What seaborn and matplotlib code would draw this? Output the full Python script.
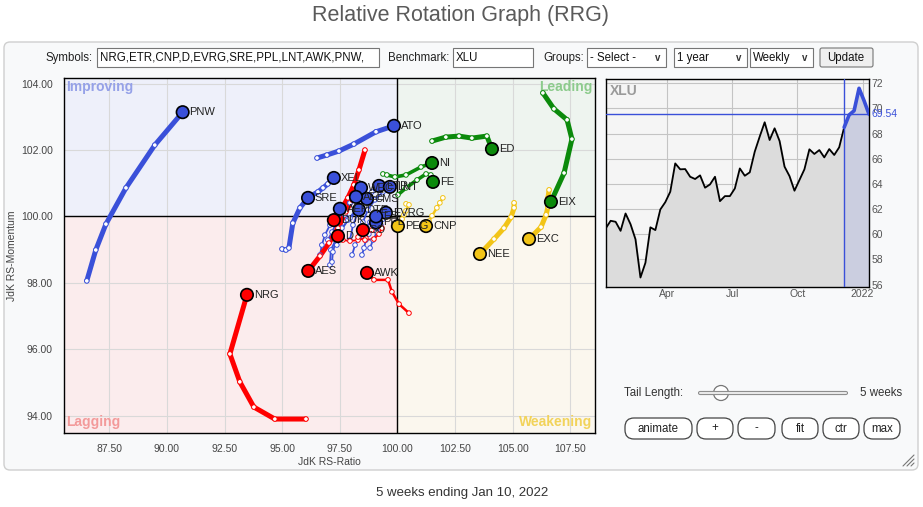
import numpy as np
import pandas as pd
import matplotlib
matplotlib.use("Agg")
import matplotlib.pyplot as plt
import matplotlib.transforms as mtransforms
from matplotlib.patches import FancyBboxPatch, Rectangle, Circle
import seaborn as sns

# RRG tails, oldest week first, head (latest week) last: (JdK RS-Ratio, JdK RS-Momentum)
PNW = [(86.52, 98.06), (86.91, 98.99), (87.35, 99.77), (88.22, 100.86), (89.47, 102.15), (90.68, 103.14)]
ATO = [(96.51, 101.76), (96.94, 101.85), (97.46, 101.97), (98.11, 102.18), (99.07, 102.55), (99.85, 102.73)]
XEL = [(96.03, 100.50), (96.25, 100.62), (96.55, 100.74), (96.77, 100.86), (96.98, 100.98), (97.24, 101.16)]
SRE = [(94.99, 99.02), (95.16, 98.99), (95.29, 99.05), (95.46, 99.80), (95.77, 100.26), (96.12, 100.56)]
WEC = [(97.37, 99.14), (97.50, 99.59), (97.72, 100.05), (97.94, 100.41), (98.16, 100.65), (98.42, 100.86)]
ETR = [(97.94, 99.29), (98.07, 99.74), (98.29, 100.14), (98.59, 100.50), (98.89, 100.74), (99.20, 100.92)]
LNT = [(98.37, 99.44), (98.50, 99.83), (98.72, 100.20), (99.02, 100.50), (99.37, 100.74), (99.67, 100.89)]
CMS = [(97.07, 98.54), (97.11, 98.99), (97.42, 99.44), (97.85, 99.89), (98.29, 100.29), (98.68, 100.53)]
AEE = [(96.98, 99.29), (97.16, 99.53), (97.37, 99.83), (97.63, 100.14), (97.94, 100.41), (98.20, 100.59)]
AEP = [(96.64, 98.84), (96.72, 99.14), (96.85, 99.44), (97.07, 99.74), (97.29, 100.02), (97.50, 100.23)]
DTE = [(97.16, 98.63), (97.20, 98.93), (97.33, 99.29), (97.59, 99.65), (97.94, 99.95), (98.33, 100.20)]
EVRG = [(98.81, 99.05), (98.94, 99.29), (99.11, 99.53), (99.28, 99.74), (99.37, 99.92), (99.50, 100.11)]
PPL = [(98.46, 98.84), (98.55, 99.05), (98.63, 99.29), (98.76, 99.47), (98.89, 99.65), (99.07, 99.82)]
ES = [(98.03, 98.84), (98.16, 99.14), (98.37, 99.41), (98.59, 99.62), (98.81, 99.83), (99.07, 100.00)]
ED = [(101.50, 102.27), (102.10, 102.39), (102.67, 102.42), (103.23, 102.36), (103.88, 102.42), (104.10, 102.03)]
NI = [(99.37, 101.28), (99.54, 101.25), (99.89, 101.19), (100.37, 101.25), (101.02, 101.49), (101.50, 101.61)]
FE = [(100.02, 100.65), (100.37, 100.86), (100.85, 101.10), (101.24, 101.28), (101.45, 101.25), (101.54, 101.04)]
EIX = [(106.31, 103.72), (106.79, 103.24), (107.36, 102.91), (107.57, 102.33), (107.23, 101.31), (106.66, 100.44)]
EXC = [(106.58, 100.80), (106.53, 100.56), (106.53, 100.29), (106.45, 100.05), (106.23, 99.68), (105.71, 99.32)]
NEE = [(105.06, 100.41), (105.06, 100.26), (104.93, 99.98), (104.62, 99.65), (104.19, 99.32), (103.58, 98.87)]
CNP = [(101.97, 100.56), (101.84, 100.41), (101.71, 100.26), (101.50, 100.02), (101.37, 99.86), (101.24, 99.71)]
PEG = [(100.37, 100.38), (100.50, 100.35), (100.37, 100.17), (100.28, 100.05), (100.20, 99.92), (100.02, 99.71)]
NRG = [(96.03, 93.90), (94.68, 93.90), (93.77, 94.26), (93.16, 95.02), (92.73, 95.86), (93.47, 97.64)]
AWK = [(100.50, 97.09), (100.07, 97.36), (99.76, 97.73), (99.59, 98.09), (98.98, 98.09), (98.68, 98.30)]
AES = [(98.03, 100.50), (97.76, 100.14), (97.42, 99.65), (97.03, 99.20), (96.64, 98.81), (96.13, 98.36)]
DUK = [(98.59, 102.00), (98.33, 101.40), (98.11, 100.95), (97.85, 100.56), (97.55, 100.20), (97.24, 99.89)]
D = [(98.89, 99.59), (98.63, 99.35), (98.29, 99.29), (97.94, 99.26), (97.63, 99.29), (97.42, 99.41)]
SO = [(99.33, 99.65), (99.20, 99.47), (98.98, 99.32), (98.59, 99.29), (98.29, 99.38), (98.50, 99.59)]

# quadrant of each symbol's latest week
improving = ["PNW", "ATO", "XEL", "SRE", "WEC", "ETR", "LNT", "CMS", "AEE", "AEP", "DTE", "EVRG", "PPL", "ES"]
leading = ["ED", "NI", "FE", "EIX"]
weakening = ["EXC", "NEE", "CNP", "PEG"]
lagging = ["NRG", "AWK", "AES", "DUK", "D", "SO"]

# XLU weekly closes (benchmark panel)
xlu_close = [60.46, 61.07, 60.99, 60.27, 61.65, 60.80, 59.60, 56.56, 57.73, 60.55,
             60.33, 61.97, 62.55, 63.38, 65.63, 65.16, 65.18, 64.57, 64.39, 64.68,
             63.70, 63.96, 64.57, 62.63, 63.03, 63.03, 63.64, 65.23, 64.65, 64.92,
             66.56, 67.76, 68.90, 67.49, 68.42, 67.41, 65.37, 64.62, 63.46, 64.31,
             65.16, 66.75, 66.38, 66.69, 66.11, 66.77, 66.30, 66.91, 68.50, 69.48,
             69.82, 71.60, 70.62, 69.54]
xlu_start = "2021-01-04"
tail_weeks = 5

x_ticks = [87.5, 90.0, 92.5, 95.0, 97.5, 100.0, 102.5, 105.0, 107.5]
y_ticks = [94, 96, 98, 100, 102, 104]

tails = {"PNW": PNW, "ATO": ATO, "XEL": XEL, "SRE": SRE, "WEC": WEC, "ETR": ETR,
         "LNT": LNT, "CMS": CMS, "AEE": AEE, "AEP": AEP, "DTE": DTE, "EVRG": EVRG,
         "PPL": PPL, "ES": ES, "ED": ED, "NI": NI, "FE": FE, "EIX": EIX, "EXC": EXC,
         "NEE": NEE, "CNP": CNP, "PEG": PEG, "NRG": NRG, "AWK": AWK, "AES": AES,
         "DUK": DUK, "D": D, "SO": SO}

rows = []
for sym, pts in tails.items():
    for wk, (rx, ry) in enumerate(pts):
        rows.append((sym, wk, rx, ry))
df = pd.DataFrame(rows, columns=["symbol", "week", "ratio", "momentum"])

quad_colors = {"improving": "#3a50d9", "leading": "#0b8a0b", "weakening": "#f2c417", "lagging": "#ff0000"}
color_map = {}
for name, group in [("improving", improving), ("leading", leading), ("weakening", weakening), ("lagging", lagging)]:
    for s in group:
        color_map[s] = quad_colors[name]

thick = ["PNW", "ATO", "XEL", "SRE", "ED", "EIX", "EXC", "NEE", "NRG", "AES", "DUK"]
medium = ["NI", "FE"]
slim = ["CNP", "PEG", "AWK"]
width_map = {}
for s in tails:
    width_map[s] = 3.6 if s in thick else 2.6 if s in medium else 1.8 if s in slim else 1.3

sns.set_style("white")
plt.rcParams["font.family"] = ["Liberation Sans", "DejaVu Sans"]

fig = plt.figure(figsize=(9.23, 5.07), dpi=100)
fig.patch.set_facecolor("white")

# page furniture drawn in pixel space
bg = fig.add_axes([0, 0, 1, 1], zorder=0)
bg.set_xlim(0, 923)
bg.set_ylim(507, 0)
bg.axis("off")
bg.text(461, 16, "Relative Rotation Graph (RRG)", ha="center", va="center", fontsize=15.5, color="#5a5a5a")
bg.add_patch(FancyBboxPatch((4, 42), 914, 428, boxstyle="round,pad=0,rounding_size=6",
                            fc="#f8f9fa", ec="#cfcfcf", lw=1))
bg.text(462, 493, "5 weeks ending Jan 10, 2022", ha="center", va="center", fontsize=9.5, color="#333333")

fs = 8.3
bg.text(93, 58, "Symbols:", ha="right", va="center", fontsize=fs, color="#222")
bg.add_patch(Rectangle((97, 48), 282, 19, fc="white", ec="#767676", lw=0.8))
bg.text(100, 58, "NRG,ETR,CNP,D,EVRG,SRE,PPL,LNT,AWK,PNW,", ha="left", va="center", fontsize=fs, color="#111")
bg.text(449, 58, "Benchmark:", ha="right", va="center", fontsize=fs, color="#222")
bg.add_patch(Rectangle((453, 48), 80, 19, fc="white", ec="#767676", lw=0.8))
bg.text(456, 58, "XLU", ha="left", va="center", fontsize=fs, color="#111")
bg.text(584, 58, "Groups:", ha="right", va="center", fontsize=fs, color="#222")
for x0, w, txt in [(587, 79, "- Select -"), (674, 73, "1 year"), (750, 63, "Weekly")]:
    bg.add_patch(Rectangle((x0, 48), w, 19, fc="white", ec="#767676", lw=0.8))
    bg.text(x0 + 3, 58, txt, ha="left", va="center", fontsize=fs, color="#111")
    bg.text(x0 + w - 8, 58, "v", ha="center", va="center", fontsize=7, fontweight="bold", color="#333")
bg.add_patch(FancyBboxPatch((820, 48), 53, 19, boxstyle="round,pad=0,rounding_size=2",
                            fc="#efefef", ec="#767676", lw=0.8))
bg.text(846, 58, "Update", ha="center", va="center", fontsize=fs, color="#111")

# tail length slider and buttons
bg.text(624, 393, "Tail Length:", ha="left", va="center", fontsize=fs, color="#333")
bg.plot([700, 846], [393, 393], color="#8a8a8a", lw=3, solid_capstyle="round")
bg.plot([700, 846], [393, 393], color="#e8e8e8", lw=1.5, solid_capstyle="round")
bg.add_patch(Circle((721, 393), 7.5, fc="white", ec="#777", lw=0.9))
bg.text(902, 393, "5 weeks", ha="right", va="center", fontsize=fs, color="#333")
for x0, x1, txt in [(625, 692, "animate"), (697, 733, "+"), (738, 775, "-"),
                    (782, 818, "fit"), (823, 859, "ctr"), (864, 900, "max")]:
    bg.add_patch(FancyBboxPatch((x0, 418), x1 - x0, 21, boxstyle="round,pad=0,rounding_size=9",
                                fc="white", ec="#444", lw=0.9))
    bg.text((x0 + x1) / 2, 428.5, txt, ha="center", va="center", fontsize=fs, color="#222")
for k in range(3):
    bg.plot([903 + 4 * k, 914], [466, 455 + 4 * k], color="#777", lw=0.8)

# main RRG axes
ax = fig.add_axes([0.0693, 0.1460, 0.5753, 0.7002], zorder=1)
x_lo, x_hi, y_lo, y_hi = 85.53, 108.57, 93.48, 104.17
ax.set_xlim(x_lo, x_hi)
ax.set_ylim(y_lo, y_hi)
ax.add_patch(Rectangle((x_lo, 100), 100 - x_lo, y_hi - 100, fc="#eef0fa", ec="none", zorder=0))
ax.add_patch(Rectangle((100, 100), x_hi - 100, y_hi - 100, fc="#eef4ef", ec="none", zorder=0))
ax.add_patch(Rectangle((x_lo, y_lo), 100 - x_lo, 100 - y_lo, fc="#fbeced", ec="none", zorder=0))
ax.add_patch(Rectangle((100, y_lo), x_hi - 100, 100 - y_lo, fc="#fbf7ee", ec="none", zorder=0))
for v in x_ticks:
    ax.axvline(v, color="#d9d9d9", lw=0.8, zorder=0.5)
for v in y_ticks:
    ax.axhline(v, color="#d9d9d9", lw=0.8, zorder=0.5)
ax.axvline(100, color="black", lw=1, zorder=1)
ax.axhline(100, color="black", lw=1, zorder=1)

qfs = 10
ax.text(0.005, 0.995, "Improving", transform=ax.transAxes, ha="left", va="top",
        fontsize=qfs, fontweight="bold", color="#95a1e8")
ax.text(0.995, 0.995, "Leading", transform=ax.transAxes, ha="right", va="top",
        fontsize=qfs, fontweight="bold", color="#8ccb8c")
ax.text(0.005, 0.01, "Lagging", transform=ax.transAxes, ha="left", va="bottom",
        fontsize=qfs, fontweight="bold", color="#f39a9a")
ax.text(0.995, 0.01, "Weakening", transform=ax.transAxes, ha="right", va="bottom",
        fontsize=qfs, fontweight="bold", color="#f2d35a")

sns.lineplot(data=df, x="ratio", y="momentum", hue="symbol", size="symbol",
             palette=color_map, sizes=width_map, sort=False, estimator=None,
             legend=False, ax=ax, zorder=2)
last_week = df["week"].max()
tail_pts = df[df["week"] < last_week]
sns.scatterplot(data=tail_pts, x="ratio", y="momentum", hue="symbol", palette=color_map,
                s=11, linewidth=0.7, legend=False, ax=ax, zorder=3)
dots = ax.collections[-1]
dots.set_edgecolors(dots.get_facecolors())
dots.set_facecolors("white")
heads = df[df["week"] == last_week]
sns.scatterplot(data=heads, x="ratio", y="momentum", hue="symbol", palette=color_map,
                s=80, edgecolor="black", linewidth=1.2, legend=False, ax=ax, zorder=4)
for _, r in heads.iterrows():
    ax.annotate(r["symbol"], (r["ratio"], r["momentum"]), xytext=(5, 0), textcoords="offset points",
                ha="left", va="center", fontsize=8, color="#222", zorder=5)

ax.set_xticks(x_ticks)
ax.set_xticklabels([f"{v:.2f}" for v in x_ticks])
ax.set_yticks(y_ticks)
ax.set_yticklabels([f"{v:.2f}" for v in y_ticks])
ax.tick_params(length=0, labelsize=7.5, labelcolor="#444", pad=8)
ax.set_xlabel("JdK RS-Ratio", fontsize=7.5, color="#444", labelpad=2)
ax.set_ylabel("JdK RS-Momentum", fontsize=7.5, color="#444", labelpad=3)
for sp in ax.spines.values():
    sp.set_visible(True)
    sp.set_color("black")
    sp.set_linewidth(1)

# benchmark price panel
dates = pd.date_range(xlu_start, periods=len(xlu_close), freq="7D")
close = np.array(xlu_close)
ax2 = fig.add_axes([0.6562, 0.4345, 0.2853, 0.4097], zorder=1)
ax2.set_facecolor("#f5f5f5")
ax2.fill_between(dates, close, 50, color="#dcdcdc", zorder=1)
sns.lineplot(x=dates, y=close, color="black", lw=1.3, ax=ax2, zorder=3)
tail = slice(len(close) - tail_weeks - 1, None)
ax2.fill_between(dates[tail], close[tail], 50, color="#cbcee0", zorder=2)
sns.lineplot(x=dates[tail], y=close[tail], color="#3a50d9", lw=2.6, ax=ax2, zorder=4)
ax2.axhline(close[-1], color="#3a50d9", lw=1, zorder=4)
ax2.axvline(dates[len(close) - tail_weeks - 1], color="#3a50d9", lw=1, zorder=4)
ax2.set_xlim(dates[0], dates[-1])
ax2.set_ylim(55.83, 72.34)
ax2.set_yticks(range(56, 73, 2))
month_ticks = pd.to_datetime(["2021-04-01", "2021-07-01", "2021-10-01", "2022-01-01"])
ax2.set_xticks(month_ticks)
ax2.set_xticklabels(["Apr", "Jul", "Oct", "2022"])
ax2.yaxis.tick_right()
ax2.grid(True, color="#c4c4c4", lw=0.8, zorder=0)
ax2.set_axisbelow(True)
ax2.tick_params(length=0, labelsize=7.5, labelcolor="#555", pad=2)
ax2.set_xlabel("")
ax2.set_ylabel("")
for sp in ax2.spines.values():
    sp.set_visible(True)
    sp.set_color("black")
    sp.set_linewidth(1)
ax2.text(0.015, 0.975, "XLU", transform=ax2.transAxes, ha="left", va="top",
         fontsize=10, fontweight="bold", color="#9a9a9a", zorder=5)
blend = mtransforms.blended_transform_factory(ax2.transAxes, ax2.transData)
ax2.text(1.01, close[-1], f"{close[-1]:.2f}", transform=blend, ha="left", va="center",
         fontsize=7.5, color="#3a50d9")

fig.savefig("out.png", dpi=100)
